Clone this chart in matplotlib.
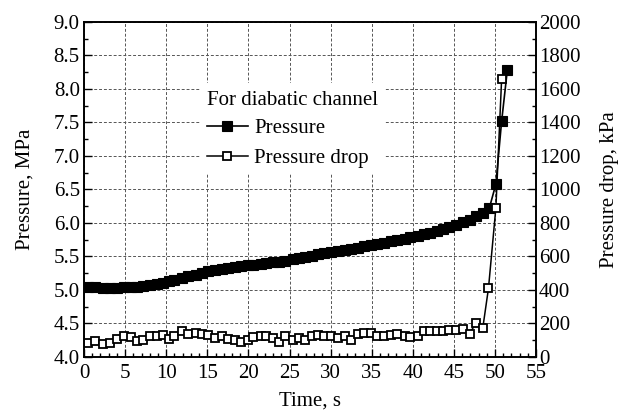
import matplotlib
matplotlib.use("Agg")
import matplotlib.pyplot as plt
from matplotlib.ticker import MultipleLocator

plt.rcParams["font.family"] = ["Liberation Serif", "DejaVu Serif"]
plt.rcParams["mathtext.fontset"] = "stix"

# pressure drop samples (kPa)
time_dp = [0.5, 1.4, 2.3, 3.2, 4.0, 4.9, 5.7, 6.5, 7.2, 8.0, 8.85, 9.65, 10.3,
           11.0, 11.9, 12.7, 13.6, 14.4, 15.1, 15.9, 16.75, 17.55, 18.4, 19.1,
           19.9, 20.6, 21.5, 22.2, 23.0, 23.7, 24.5, 25.4, 26.1, 26.9, 27.7,
           28.5, 29.2, 30.05, 30.9, 31.7, 32.5, 33.3, 34.1, 34.9, 35.7, 36.5,
           37.3, 38.1, 39.0, 39.7, 40.6, 41.3, 42.1, 42.9, 43.7, 44.4, 45.3,
           46.1, 46.9, 47.7, 48.5, 49.2, 50.1, 50.8]
pressure_drop = [83, 93, 79, 83, 107, 127, 119, 97, 103, 127, 127, 133, 107,
                 127, 154, 139, 143, 139, 133, 113, 123, 107, 103, 89, 103, 119,
                 127, 127, 113, 89, 123, 99, 113, 99, 127, 133, 123, 127, 113,
                 127, 103, 139, 143, 143, 127, 127, 133, 139, 123, 119, 123,
                 154, 154, 154, 154, 160, 160, 168, 139, 204, 170, 410, 890, 1660]

# system pressure samples (MPa)
time_p = [0.5, 1.4, 2.3, 3.2, 4.0, 4.9, 5.7, 6.5, 7.2, 8.0, 8.85, 9.65, 10.3,
          11.0, 11.9, 12.7, 13.6, 14.4, 15.1, 15.9, 16.75, 17.55, 18.4, 19.1,
          19.9, 20.6, 21.5, 22.2, 23.0, 23.7, 24.5, 25.4, 26.1, 26.9, 27.7,
          28.5, 29.2, 30.05, 30.9, 31.7, 32.5, 33.3, 34.1, 34.9, 35.7, 36.5,
          37.3, 38.1, 39.0, 39.7, 40.6, 41.3, 42.1, 42.9, 43.7, 44.4, 45.3,
          46.1, 46.9, 47.7, 48.5, 49.3, 50.1, 50.8, 51.5]
pressure = [5.05, 5.04, 5.035, 5.035, 5.035, 5.04, 5.045, 5.05, 5.06, 5.08,
            5.095, 5.11, 5.13, 5.15, 5.18, 5.205, 5.23, 5.255, 5.28, 5.295,
            5.31, 5.325, 5.34, 5.355, 5.365, 5.375, 5.385, 5.395, 5.41, 5.42,
            5.435, 5.455, 5.47, 5.49, 5.51, 5.53, 5.545, 5.56, 5.58, 5.595,
            5.61, 5.63, 5.65, 5.665, 5.685, 5.705, 5.725, 5.745, 5.765, 5.785,
            5.81, 5.83, 5.855, 5.88, 5.91, 5.935, 5.97, 6.01, 6.05, 6.10,
            6.15, 6.22, 6.58, 7.52, 8.29]

fig = plt.figure(figsize=(6.22, 4.15), dpi=100)
ax = fig.add_axes([0.135, 0.140, 0.727, 0.807])
ax2 = ax.twinx()

h1, = ax.plot(time_p, pressure, color="black", linewidth=1.2, marker="s",
              markersize=6.6, markerfacecolor="black", markeredgecolor="black",
              markeredgewidth=0.8, label="Pressure")
h2, = ax2.plot(time_dp, pressure_drop, color="black", linewidth=1.1,
               marker="s", markersize=5.2, markerfacecolor="white",
               markeredgecolor="black", markeredgewidth=1.3,
               label="Pressure drop")

ax.set_xlim(0, 55)
ax.set_ylim(4.0, 9.0)
ax2.set_ylim(0, 2000)

ax.xaxis.set_major_locator(MultipleLocator(5))
ax.xaxis.set_minor_locator(MultipleLocator(1))
ax.yaxis.set_major_locator(MultipleLocator(0.5))
ax.yaxis.set_minor_locator(MultipleLocator(0.25))
ax2.yaxis.set_major_locator(MultipleLocator(200))
ax2.yaxis.set_minor_locator(MultipleLocator(100))
ax.yaxis.set_major_formatter(plt.FormatStrFormatter("%.1f"))

for a in (ax, ax2):
    a.tick_params(which="both", direction="in", labelsize=15, width=1.0, pad=3)
    a.tick_params(which="major", length=6)
    a.tick_params(which="minor", length=3)
    for s in a.spines.values():
        s.set_linewidth(1.2)
ax.tick_params(axis="y", right=False)
ax2.tick_params(axis="y", left=False, pad=2)
ax.tick_params(axis="x", top=False, pad=5)

ax.grid(True, which="major", linestyle=(0, (3, 2)), color="#555555",
        linewidth=0.7)

ax.set_xlabel("Time, s", fontsize=15, labelpad=6)
ax.set_ylabel("Pressure, MPa", fontsize=15, labelpad=14)
ax2.set_ylabel("Pressure drop, kPa", fontsize=15, labelpad=14)

leg = ax2.legend([h1, h2], ["Pressure", "Pressure drop"],
                 title="For diabatic channel", title_fontsize=15,
                 fontsize=15, loc="upper left",
                 bbox_to_anchor=(0.322, 0.8), bbox_transform=fig.transFigure,
                 frameon=True, fancybox=False, framealpha=1.0,
                 handlelength=2.0, handletextpad=0.3, labelspacing=0.5,
                 borderpad=0.3, borderaxespad=0, alignment="left")
leg.get_frame().set_edgecolor("none")
leg.get_title().set_position((0, -2))

fig.savefig("out.png", dpi=100)
